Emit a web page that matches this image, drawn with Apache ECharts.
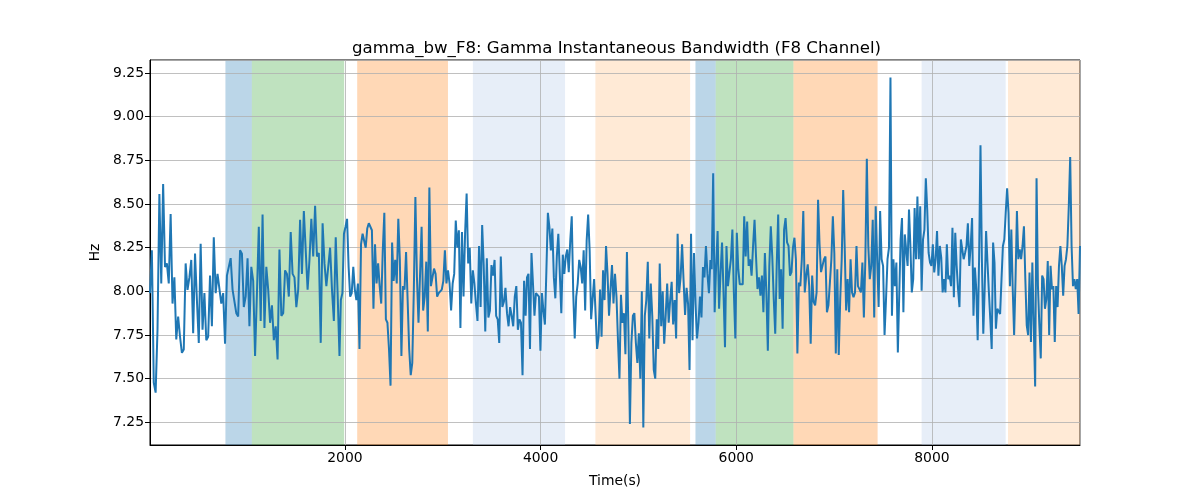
<!DOCTYPE html>
<html>
<head>
<meta charset="utf-8">
<script src="https://cdn.jsdelivr.net/npm/echarts@6/dist/echarts.min.js"></script>
<style>html,body{margin:0;padding:0;background:#fff}#c{width:1200px;height:500px}</style>
</head>
<body>
<div id="c"></div>
<script>
// Segment boundaries (seconds)
var segStart = [7, 1958, 3861, 5749, 7680];
var segEnd = [1944, 3847, 5736, 7652, 9514];
// Values (Hz) per segment
var seg1 = [7.99,8.235,7.477,7.42,7.78,8.557,8.045,8.614,8.14,8.16,8.045,8.443,7.93,8.08,7.724,7.856,7.74,7.648,7.667,8.16,8.008,8.08,8.18,7.76,8.216,7.95,7.705,8.273,7.78,7.99,7.72,7.74,8.09,7.80,8.31,7.99,8.10,8.11,7.93,7.99,7.70,8.09,8.10,8.19,8.01,8.02,7.875,7.856,8.235,8.216,7.91,7.97,8.19,7.80,8.14,8.06,7.63,7.99,8.37,7.83,8.44,7.79,8.14,8.01,7.82,7.92,7.72,7.80,7.61,8.24,7.86,7.875,8.12,8.10,7.97,8.34,8.10,8.08,7.91,8.01,8.41,8.10,8.46,8.235,8.01,8.18,8.415,8.20,8.49,8.20,8.22,7.705,8.39,8.16,8.03,8.14,8.25,8.01,7.83,8.31,7.99,7.63];
var seg2 = [7.95,7.99,8.33,8.37,8.415,8.14,7.97,7.99,8.14,8.01,7.95,8.045,7.67,8.27,8.33,8.34,8.25,8.36,8.39,8.40,8.35,7.90,8.27,8.045,8.16,8.03,7.93,8.235,8.45,7.84,7.82,7.67,7.46,8.28,8.06,8.18,8.045,8.415,8.18,7.63,8.03,8.01,8.225,7.95,7.67,7.52,7.59,8.01,8.54,8.08,7.82,7.82,8.37,7.89,7.97,8.17,7.77,8.595,8.03,8.03,8.13,8.10,7.97,7.99,7.99,8.01,8.06,8.235,8.045,8.12,8.045,7.89,8.045,8.10,8.405,8.25,8.35,7.79,8.34,7.97,8.33,8.56,8.16,8.25,7.93,8.12,8.045,7.93,7.83,8.26,7.91,8.38,8.15,7.77,8.19,7.85,7.89,8.15,8.09,8.18,7.86,7.84,7.705,8.20,7.91,7.94,8.02,7.875,7.80,7.91,7.86,7.80,7.97,8.03,7.78,7.84,7.82,7.52,8.06,7.86];
var seg3 = [8.08,8.10,7.67,8.22,8.045,7.86,7.99,8.00,7.97,7.66,7.99,7.89,7.81,8.12,8.45,8.37,8.235,8.36,8.08,7.96,8.20,8.33,8.34,7.875,8.21,8.10,8.20,8.24,8.11,8.29,8.43,7.99,7.73,7.97,8.045,8.18,8.14,8.045,8.235,7.89,8.29,8.44,8.235,7.84,7.83,8.07,8.06,7.67,7.74,8.01,7.74,8.12,7.95,8.26,8.10,7.86,8.01,8.15,7.93,8.10,7.97,7.72,7.50,7.98,7.82,7.875,7.64,8.225,7.78,7.24,7.705,7.86,7.875,7.705,7.59,7.76,7.50,8.00,7.22,7.86,7.95,8.17,7.73,8.045,7.86,7.55,7.50,7.84,7.67,8.16,7.80,8.00,7.70,7.86,8.045,7.82,7.95,8.055,7.81,7.95,7.73,8.33,7.99,8.08,8.27,8.06,7.865,8.02,7.93,7.55,8.33,7.72,8.22,7.93,7.73,7.82,7.97,7.85,8.14,8.08,8.26,8.10,7.99,8.18];
var seg4 = [8.127,8.676,7.88,8.146,8.345,7.90,8.108,8.28,7.994,7.68,8.26,8.03,8.11,8.184,8.354,7.994,7.73,8.335,8.127,8.04,8.03,8.04,8.43,8.20,8.40,8.146,8.184,8.09,8.26,8.41,8.20,8.013,8.08,7.975,8.09,7.88,8.22,7.994,7.66,8.146,8.373,8.20,7.956,7.757,8.146,8.44,7.956,8.127,7.786,8.354,8.42,8.28,8.26,8.09,8.11,8.25,8.307,8.184,7.644,8.05,8.03,8.184,8.46,7.994,8.09,8.155,8.03,7.70,8.09,7.94,7.92,7.994,8.525,8.27,8.11,8.10,8.184,8.20,7.88,7.92,8.05,8.184,8.43,8.22,7.644,8.127,7.635,7.956,8.184,8.58,8.26,7.89,8.07,7.88,8.184,7.994,7.966,7.994,8.26,8.03,8.013,7.994,8.165,7.85,8.184,8.76,8.26,8.07,8.146,8.41,7.85,8.487,8.184,7.91,8.46,8.184,8.146,7.75,7.956,8.184,8.25,9.225,7.86,8.184,8.03,8.165,7.65];
var seg5 = [8.297,8.42,7.88,8.326,8.316,8.146,8.468,8.26,7.994,8.07,8.477,8.184,8.543,8.184,8.487,8.004,8.297,8.354,8.648,8.468,8.22,8.165,8.146,8.27,8.108,8.184,8.345,8.09,8.26,8.193,7.994,8.07,7.994,8.27,8.07,8.09,8.03,8.364,7.966,8.335,8.146,8.013,7.91,8.297,8.24,8.184,8.22,8.26,8.39,8.146,8.26,8.42,7.86,8.136,8.013,7.72,8.184,8.837,8.184,7.757,8.013,8.345,8.165,7.994,7.84,7.67,8.28,8.165,7.786,7.90,7.91,7.87,8.07,8.26,8.297,8.45,8.59,8.45,8.03,8.354,8.013,7.75,8.07,8.46,8.184,8.24,8.184,8.26,8.373,8.07,7.805,7.75,8.108,7.71,8.165,7.805,7.455,8.648,8.03,7.805,7.616,8.09,8.07,7.90,7.956,8.174,7.75,8.146,8.013,8.03,7.71,8.03,7.91,8.146,8.26,8.146,7.975,8.146,8.184,8.26,8.487,8.77,8.26,8.03,8.07,8.013,8.07,7.87,8.26];
// Shaded spans: start, end, colour key
var spanStart = [778, 1048, 2125, 3308, 4560, 5583, 5790, 6585, 7895, 8778];
var spanEnd   = [1048, 1992, 3053, 4250, 5528, 5790, 6585, 7445, 8754, 9514];
var spanKind  = ['b', 'g', 'o', 'lb', 'lo', 'b', 'g', 'o', 'lb', 'lo'];

var kindColor = {
  b: 'rgba(31,119,180,0.3)', g: 'rgba(44,160,44,0.3)', o: 'rgba(255,127,14,0.3)',
  lb: 'rgba(174,199,232,0.3)', lo: 'rgba(255,187,120,0.3)'
};
var segs = [seg1, seg2, seg3, seg4, seg5];
var data = [];
segs.forEach(function (s, k) {
  var n = s.length;
  for (var i = 0; i < n; i++) {
    var t = segStart[k] + (segEnd[k] - segStart[k]) * i / (n - 1);
    data.push([t, s[i]]);
  }
});
var areas = spanStart.map(function (s, i) {
  return [{ xAxis: s, itemStyle: { color: kindColor[spanKind[i]] } }, { xAxis: spanEnd[i] }];
});

var font = 'DejaVu Sans';
var chart = echarts.init(document.getElementById('c'), null, { renderer: 'canvas' });
chart.setOption({
  animation: false,
  backgroundColor: '#fff',
  title: {
    text: 'gamma_bw_F8: Gamma Instantaneous Bandwidth (F8 Channel)',
    left: 347, top: 35,
    textStyle: { fontFamily: font, fontSize: 16.6, fontWeight: 'normal', color: '#000' }
  },
  grid: { left: 150, right: 120, top: 60, bottom: 55, show: true, borderColor: '#000', borderWidth: 1, backgroundColor: 'transparent' },
  xAxis: {
    type: 'value', min: 7, max: 9514, minInterval: 2000, maxInterval: 2000, z: 2,
    name: 'Time(s)', nameLocation: 'middle', nameGap: 29,
    nameTextStyle: { fontFamily: font, fontSize: 13.9, color: '#000' },
    axisLine: { show: true, onZero: false, lineStyle: { color: '#000', width: 1 } },
    axisTick: { show: true, length: 5, lineStyle: { color: '#000' } },
    axisLabel: { fontFamily: font, fontSize: 13.9, color: '#000', margin: 6, showMinLabel: false, showMaxLabel: false,
      formatter: function (v) { return String(Math.round(v)); } },
    splitLine: { show: true, lineStyle: { color: '#b0b0b0', width: 0.8 } }
  },
  yAxis: {
    type: 'value', min: 7.12, max: 9.325, minInterval: 0.25, maxInterval: 0.25, z: 2,
    name: 'Hz', nameLocation: 'middle', nameGap: 48,
    nameTextStyle: { fontFamily: font, fontSize: 13.9, color: '#000' },
    axisLine: { show: true, onZero: false, lineStyle: { color: '#000', width: 1 } },
    axisTick: { show: true, length: 5, lineStyle: { color: '#000' } },
    axisLabel: { fontFamily: font, fontSize: 13.9, color: '#000', margin: 6, showMinLabel: false, showMaxLabel: false,
      formatter: function (v) { return v.toFixed(2); } },
    splitLine: { show: true, lineStyle: { color: '#b0b0b0', width: 0.8 } }
  },
  series: [
    { type: 'line', data: [], z: 1, silent: true, markArea: { silent: true, data: areas } },
    { type: 'line', data: data, z: 3, showSymbol: false, symbol: 'none',
      lineStyle: { color: '#1f77b4', width: 2 }, itemStyle: { color: '#1f77b4' } }
  ]
});
</script>
</body>
</html>
